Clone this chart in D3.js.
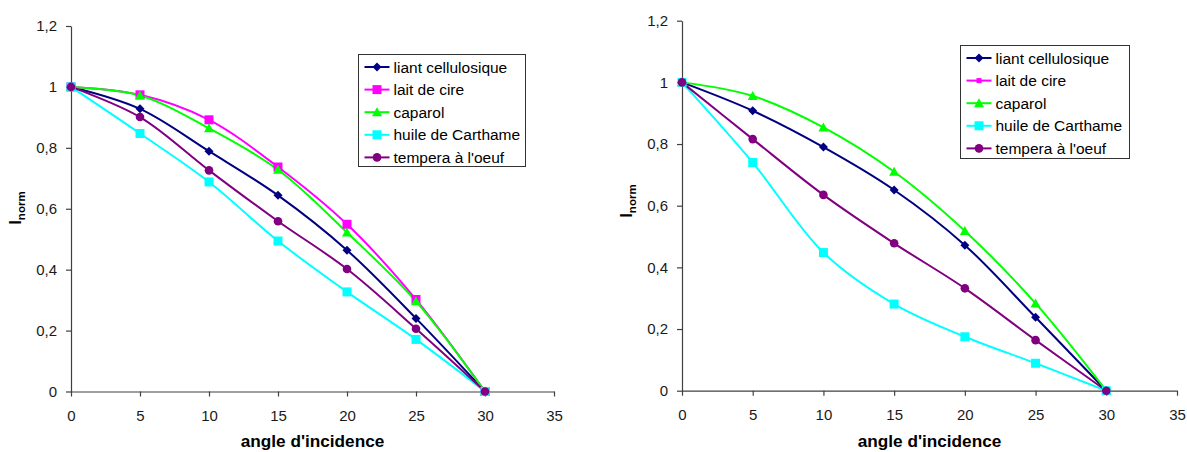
<!DOCTYPE html>
<html><head><meta charset="utf-8">
<script src="https://cdn.jsdelivr.net/npm/d3@7"></script>
<style>body{margin:0;background:#fff}svg{display:block;font-family:"Liberation Sans",Arial,sans-serif}</style>
</head><body><svg id="c" width="1187" height="452"></svg>
<script>
const angles = [0, 5, 10, 15, 20, 25, 30];
const seriesNames = ["liant cellulosique", "lait de cire", "caparol", "huile de Carthame", "tempera à l'oeuf"];
const xTicks = [0, 5, 10, 15, 20, 25, 30, 35];
const yTicks = [0, 0.2, 0.4, 0.6, 0.8, 1, 1.2];
const xTitle = "angle d'incidence";
// left chart
const leftLiant   = [1, 0.928, 0.789, 0.644, 0.464, 0.240, 0];
const leftLait    = [1, 0.974, 0.892, 0.737, 0.549, 0.302, 0];
const leftCaparol = [1, 0.972, 0.864, 0.728, 0.522, 0.296, 0];
const leftHuile   = [1, 0.847, 0.688, 0.494, 0.327, 0.171, 0];
const leftTempera = [1, 0.901, 0.726, 0.559, 0.402, 0.206, 0];
// right chart
const rightLiant   = [1, 0.908, 0.790, 0.651, 0.472, 0.238, 0];
const rightLait    = [null, null, null, null, null, null, null];
const rightCaparol = [1, 0.956, 0.854, 0.710, 0.518, 0.283, 0];
const rightHuile   = [1, 0.740, 0.448, 0.281, 0.175, 0.089, 0];
const rightTempera = [1, 0.816, 0.635, 0.478, 0.332, 0.164, 0];

const colors = ["#000080", "#FF00FF", "#00FF00", "#00FFFF", "#800080"];
const svg = d3.select("#c");
const fmt = d => String(+d.toFixed(1)).replace(".", ",");

function marker(g, i, x, y, big) {
  const c = colors[i];
  if (i === 0) g.append("path").attr("d", `M${x},${y-4.5}L${x+4.5},${y}L${x},${y+4.5}L${x-4.5},${y}Z`).attr("fill", c);
  else if (i === 1) { const s = big ? 9 : 5; g.append("rect").attr("x", x-s/2).attr("y", y-s/2).attr("width", s).attr("height", s).attr("fill", c); }
  else if (i === 2) g.append("path").attr("d", `M${x},${y-5}L${x+5},${y+4}L${x-5},${y+4}Z`).attr("fill", c);
  else if (i === 3) g.append("rect").attr("x", x-4.5).attr("y", y-4.5).attr("width", 9).attr("height", 9).attr("fill", c);
  else g.append("circle").attr("cx", x).attr("cy", y).attr("r", 4.3).attr("fill", c);
}

function chart(cfg) {
  const x = d3.scaleLinear().domain([0, 35]).range([cfg.x0, cfg.x1]);
  const y = d3.scaleLinear().domain([0, 1.2]).range([cfg.y0, cfg.y1]);
  const g = svg.append("g");
  const ax = g.append("g").attr("transform", `translate(0,${cfg.y0})`)
    .call(d3.axisBottom(x).tickValues(xTicks).tickSize(5).tickSizeOuter(0).tickPadding(6).tickFormat(d => d));
  const ay = g.append("g").attr("transform", `translate(${cfg.x0},0)`)
    .call(d3.axisLeft(y).tickValues(yTicks).tickSize(5).tickSizeOuter(0).tickPadding(9).tickFormat(fmt));
  [ax, ay].forEach(a => {
    a.selectAll("path,line").attr("stroke", "#404040").attr("stroke-width", 1.2);
    a.selectAll("text").attr("font-size", 15).attr("fill", "#1a1a1a").attr("font-family", "Liberation Sans, Arial, sans-serif");
  });
  ax.selectAll("text").attr("y", 29.5).attr("dy", 0);
  const line = d3.line().defined(d => d[1] !== null).x(d => x(d[0])).y(d => y(d[1])).curve(d3.curveCatmullRom.alpha(0.5));
  cfg.data.forEach((vals, i) => {
    const pts = angles.map((a, k) => [a, vals[k]]);
    g.append("path").attr("d", line(pts)).attr("fill", "none").attr("stroke", colors[i]).attr("stroke-width", 2);
  });
  cfg.data.forEach((vals, i) => {
    angles.forEach((a, k) => { if (vals[k] !== null) marker(g, i, x(a), y(vals[k]), cfg.bigLait); });
  });
  g.append("text").attr("x", (cfg.x0 + cfg.x1) / 2).attr("y", 447).attr("text-anchor", "middle")
    .attr("font-weight", "bold").attr("font-size", 17.2).text(xTitle);
  const yt = g.append("text").attr("transform", `translate(${cfg.ylx},${cfg.yly}) rotate(-90)`).attr("text-anchor", "middle")
    .attr("font-weight", "bold").attr("font-size", 16);
  yt.append("tspan").text("I");
  yt.append("tspan").attr("font-size", 11.5).attr("dy", 4).text("norm");
  // legend
  const L = cfg.leg;
  g.append("rect").attr("x", L.x).attr("y", L.y).attr("width", L.w).attr("height", L.h)
    .attr("fill", "#fff").attr("stroke", "#333").attr("stroke-width", 1);
  seriesNames.forEach((n, i) => {
    const yy = L.y + 12.5 + i * 22.6;
    g.append("line").attr("x1", L.x + 6).attr("x2", L.x + 31).attr("y1", yy).attr("y2", yy).attr("stroke", colors[i]).attr("stroke-width", 2);
    marker(g, i, L.x + 18.5, yy, cfg.bigLait);
    g.append("text").attr("x", L.x + 35).attr("y", yy + 5.5).attr("font-size", 15.5).attr("fill", "#000").text(n);
  });
}

chart({x0: 71, x1: 554, y0: 391.5, y1: 26, ylx: 21, yly: 208, bigLait: true,
  data: [leftLiant, leftLait, leftCaparol, leftHuile, leftTempera],
  leg: {x: 358.5, y: 54.5, w: 167, h: 112}});
chart({x0: 682, x1: 1177, y0: 390.7, y1: 20.7, ylx: 632, yly: 201, bigLait: false,
  data: [rightLiant, rightLait, rightCaparol, rightHuile, rightTempera],
  leg: {x: 960.5, y: 45.5, w: 169, h: 113}});
</script></body></html>
